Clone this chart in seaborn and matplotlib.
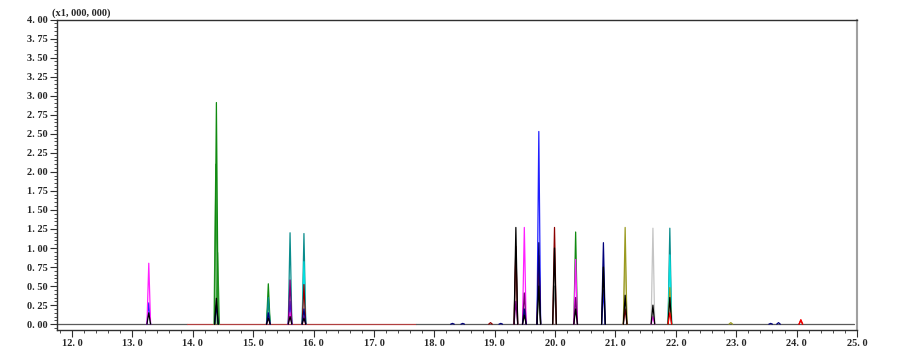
import matplotlib
matplotlib.use("Agg")
import matplotlib.pyplot as plt
import seaborn as sns
import pandas as pd
from matplotlib.ticker import FixedLocator, MultipleLocator

sns.set_style("white")
plt.rcParams['font.family'] = ['Liberation Serif', 'DejaVu Serif']

# peak tables per ion trace: retention time (min), height (x1,000,000)
black_rt = [13.27, 14.39, 15.25, 15.61, 15.84, 19.35, 19.49, 19.73, 19.99, 20.34, 20.80, 21.16, 21.62, 21.90]
black_h = [0.15, 0.34, 0.08, 0.10, 0.08, 1.27, 0.12, 0.50, 1.00, 0.20, 0.75, 0.38, 0.25, 0.35]
magenta_rt = [13.27, 15.25, 15.61, 15.84, 19.49, 20.34, 21.62]
magenta_h = [0.80, 0.10, 0.15, 0.10, 1.27, 0.85, 0.10]
blue_rt = [13.27, 15.61, 19.73, 20.80]
blue_h = [0.28, 0.30, 2.53, 0.45]
navy_rt = [14.39, 15.25, 15.84, 18.30, 18.47, 19.10, 19.49, 19.73, 20.80, 23.57, 23.70]
navy_h = [0.25, 0.15, 0.20, 0.01, 0.01, 0.01, 0.20, 1.07, 1.07, 0.01, 0.02]
green_rt = [14.39, 15.25, 19.73, 20.34]
green_h = [2.91, 0.53, 0.60, 1.21]
lgreen_rt = [14.38, 14.41, 15.25]
lgreen_h = [2.10, 0.94, 0.30]
darkred_rt = [15.84, 18.93, 19.35, 19.73, 19.99, 21.16, 24.07]
darkred_h = [0.52, 0.02, 1.02, 0.90, 1.27, 0.20, 0.05]
teal_rt = [15.25, 15.61, 15.84, 21.90]
teal_h = [0.35, 1.20, 1.19, 1.26]
cyan_rt = [15.84, 21.90]
cyan_h = [0.82, 0.91]
purple_rt = [15.61, 19.35, 19.49, 20.34]
purple_h = [0.58, 0.30, 0.41, 0.35]
olive_rt = [21.16, 21.90, 22.91]
olive_h = [1.27, 0.48, 0.02]
khaki_rt = [21.16]
khaki_h = [0.91]
gray_rt = [19.35, 19.99]
gray_h = [0.90, 0.50]
silver_rt = [21.62]
silver_h = [1.26]
red_rt = [21.90, 24.07]
red_h = [0.15, 0.06]

# baseline segments
base_start = [11.75, 13.90, 17.70]
base_end = [13.90, 17.70, 24.95]

y_ticks = [0.0, 0.25, 0.5, 0.75, 1.0, 1.25, 1.5, 1.75, 2.0, 2.25, 2.5, 2.75, 3.0, 3.25, 3.5, 3.75, 4.0]
y_labels = ["0. 00", "0. 25", "0. 50", "0. 75", "1. 00", "1. 25", "1. 50", "1. 75", "2. 00",
            "2. 25", "2. 50", "2. 75", "3. 00", "3. 25", "3. 50", "3. 75", "4. 00"]
x_ticks = [12, 13, 14, 15, 16, 17, 18, 19, 20, 21, 22, 23, 24, 25]
x_labels = ["12. 0", "13. 0", "14. 0", "15. 0", "16. 0", "17. 0", "18. 0", "19. 0",
            "20. 0", "21. 0", "22. 0", "23. 0", "24. 0", "25. 0"]

traces = [
    ("gray", gray_rt, gray_h, "#8c8c8c"),
    ("silver", silver_rt, silver_h, "#c4c4c4"),
    ("khaki", khaki_rt, khaki_h, "#cfcf94"),
    ("lgreen", lgreen_rt, lgreen_h, "#3aa03a"),
    ("green", green_rt, green_h, "#108a10"),
    ("teal", teal_rt, teal_h, "#0a8c8c"),
    ("cyan", cyan_rt, cyan_h, "#00e0e0"),
    ("olive", olive_rt, olive_h, "#9a9a20"),
    ("blue", blue_rt, blue_h, "#2020ff"),
    ("magenta", magenta_rt, magenta_h, "#ff20ff"),
    ("darkred", darkred_rt, darkred_h, "#8b0000"),
    ("purple", purple_rt, purple_h, "#7a007a"),
    ("navy", navy_rt, navy_h, "#00007a"),
    ("black", black_rt, black_h, "#000000"),
    ("red", red_rt, red_h, "#ff0000"),
]
half_w = 0.03

# long table: one unit per peak so the traces do not join along the baseline
rows = []
palette = {}
order = []
unit = 0
for i, (s, e) in enumerate(zip(base_start, base_end)):
    name = "base%d" % i
    rows += [(name, unit, s, 0.0), (name, unit, e, 0.0)]
    unit += 1
    palette[name] = "#b04040" if i == 1 else "#5a5a5a"
    order.append(name)
for name, rts, hs, col in traces:
    for rt, h in zip(rts, hs):
        rows += [(name, unit, rt - half_w, 0.0), (name, unit, rt, h), (name, unit, rt + half_w, 0.0)]
        unit += 1
    palette[name] = col
    order.append(name)
df = pd.DataFrame(rows, columns=["trace", "peak", "time", "intensity"])

fig = plt.figure(figsize=(9, 3.58), dpi=100)
ax = fig.add_axes([57 / 900, 1 - 329.5 / 358, 800 / 900, 310 / 358])

sns.lineplot(data=df, x="time", y="intensity", hue="trace", hue_order=order, units="peak",
             palette=palette, estimator=None, sort=False, lw=0.9, legend=False, ax=ax)

ax.set_xlim(11.75, 25.0)
ax.set_ylim(-0.07, 4.0)
ax.set_xlabel("")
ax.set_ylabel("")
ax.yaxis.set_major_locator(FixedLocator(y_ticks))
ax.set_yticklabels(y_labels)
ax.yaxis.set_minor_locator(MultipleLocator(0.05))
ax.xaxis.set_major_locator(FixedLocator(x_ticks))
ax.set_xticklabels(x_labels)
ax.xaxis.set_minor_locator(MultipleLocator(0.2))

ax.tick_params(axis="both", which="major", direction="out", length=5, width=0.8,
               color="#303030", labelsize=7.5, pad=1.5)
ax.tick_params(axis="both", which="minor", direction="out", length=2.5, width=0.6,
               color="#303030")
ax.tick_params(left=True, bottom=True, which="both")
for lab in ax.get_xticklabels() + ax.get_yticklabels():
    lab.set_fontweight("bold")

for side in ["left", "bottom", "top"]:
    ax.spines[side].set_color("#303030")
    ax.spines[side].set_linewidth(1.0)
ax.spines["right"].set_color("#a0a0a0")
ax.spines["right"].set_linewidth(1.5)

fig.text(52 / 900, 1 - 18 / 358, "(x1, 000, 000)", fontsize=7.5, fontweight="bold",
         ha="left", va="bottom")

fig.savefig("out.png", dpi=100)
